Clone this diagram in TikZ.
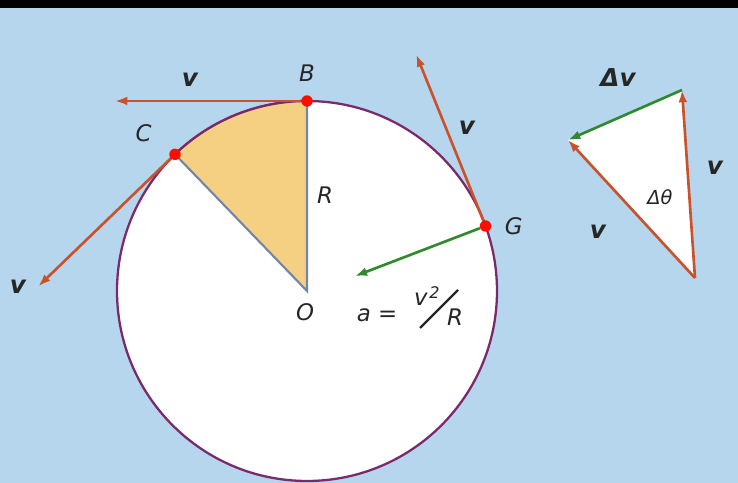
\documentclass[tikz,border=0pt]{standalone}
\usepackage{fontspec}
\setsansfont{DejaVu Sans}
\usepackage{xcolor}
\usetikzlibrary{positioning,arrows.meta,calc}

\definecolor{skyback}{HTML}{B6D6EE}
\definecolor{rim}{HTML}{7A2A6A}
\definecolor{velo}{HTML}{C9522B}
\definecolor{accel}{HTML}{2F8A2C}
\definecolor{sector}{HTML}{F5D082}
\definecolor{spoke}{HTML}{7085A8}

\begin{document}
\begin{tikzpicture}[
  x=0.02cm, y=0.02cm,
  >={Latex[length=7pt,width=5pt]},
  dot/.style={circle, fill=red!90!orange, inner sep=0pt, minimum size=6.5pt},
  lbl/.style={font=\sffamily\itshape\fontsize{13}{15}\selectfont, text=black!85},
  vlbl/.style={font=\sffamily\bfseries\itshape\fontsize{14}{16}\selectfont, text=black!85},
  varr/.style={->, line width=1.5pt, velo},
  aarr/.style={->, line width=1.5pt, accel}
]
  % background and top band
  \fill[skyback] (0,0) rectangle (738,483);
  \fill[black] (0,475) rectangle (738,483);
  \useasboundingbox (0,0) rectangle (738,483);

  % the circle
  \coordinate (O) at (307,192);
  \filldraw[fill=white, draw=rim, line width=1.3pt] (O) circle (190);

  % sector between B and C
  \fill[sector] (O) -- ++(90:190) arc (90:134:190) -- cycle;
  \draw[spoke, line width=1.2pt] ($(O)+(134:190)$) -- (O) -- ++(90:190);
  \draw[rim, line width=1.3pt] (O) ++(90:190) arc (90:134:190);

  \node[dot, label={[lbl, label distance=4pt]above:B}] (B) at ($(O)+(90:190)$) {};
  \node[dot, label={[lbl, label distance=7pt]160:C}] (C) at ($(O)+(134:190)$) {};
  \node[dot, label={[lbl, label distance=4pt]right:G}] (G) at ($(O)+(20:190)$) {};
  \node[lbl] (Olbl) at (305,171) {O};
  \node[lbl] (R) at (325,288) {R};

  % velocity and acceleration
  \coordinate (vB) at ($(B)+(180:192)$);
  \coordinate (vC) at ($(C)+(224:190)$);
  \coordinate (vG) at ($(G)+(112:185)$);
  \coordinate (aG) at ($(G)+(201:140)$);
  \draw[varr] (B) -- (vB);
  \draw[varr] (C) -- (vC);
  \draw[varr] (G) -- (vG);
  \draw[aarr] (G) -- (aG);

  \node[vlbl] (v1) at (190,403) {v};
  \node[vlbl] (v2) at (18,196) {v};
  \node[vlbl] (v3) at (467,355) {v};

  % a = v^2 / R
  \node[lbl] (acc) at (377,168) {a =};
  \node[lbl, anchor=base west] (vsq) at (408,177) {v\kern1pt\textsuperscript{2}};
  \node[lbl] (Rden) at (455,166) {R};
  \draw[black!85, line width=1.4pt] (420,155) -- (458,193);

  % vector triangle
  \coordinate (T) at (682,393);
  \coordinate (L) at (568,343);
  \coordinate (Q) at (695,205);
  \fill[white] (T) -- (L) -- (Q) -- cycle;
  \draw[varr] (Q) -- (T);
  \draw[varr] (Q) -- (L);
  \draw[aarr] (T) -- (L);
  \node[vlbl] (dv) at (618,405) {Δv};
  \node[vlbl] (v4) at (715,315) {v};
  \node[vlbl] (v5) at (598,251) {v};
  \node[lbl, font=\sffamily\itshape\fontsize{11}{13}\selectfont] (dth) at (660,286) {Δθ};
\end{tikzpicture}
\end{document}
